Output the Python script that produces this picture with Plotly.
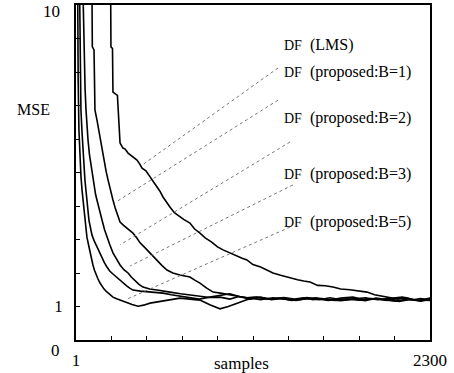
import plotly.graph_objects as go

# ---------------- data ----------------
lms_x = [1, 200, 226, 228, 238, 241, 270, 274, 280, 287, 306, 320, 339, 360, 397, 415, 430, 455, 482, 505,
         527, 545, 566, 590, 611, 640, 676, 700, 741, 770, 806, 840, 880, 920, 956, 1000, 1040, 1080, 1111,
         1150, 1200, 1241, 1280, 1330, 1391, 1440, 1480, 1521, 1570, 1620, 1670, 1720, 1780, 1840, 1891,
         1940, 1990, 2040, 2090, 2140, 2190, 2240, 2300]
lms_y = [20, 14, 10.4, 8.75, 8.7, 7.4, 7.3, 6.9, 6.3, 5.88, 5.73, 5.70, 5.58, 5.50, 5.37, 5.25, 5.13, 5.05, 4.87,
         4.70, 4.57, 4.45, 4.27, 4.10, 3.97, 3.80, 3.67, 3.60, 3.49, 3.32, 3.19, 3.05, 2.93, 2.78, 2.69, 2.60,
         2.50, 2.44, 2.39, 2.25, 2.18, 2.09, 2.00, 1.93, 1.85, 1.80, 1.76, 1.73, 1.63, 1.62, 1.58, 1.52, 1.50,
         1.45, 1.43, 1.35, 1.30, 1.25, 1.22, 1.27, 1.20, 1.24, 1.19]

b1_x = [1, 100, 105, 107, 118, 122, 124, 137, 147, 157, 170, 183, 196, 209, 225, 241, 255, 267, 287, 310, 332,
        350, 371, 395, 417, 450, 482, 508, 533, 560, 592, 630, 676, 710, 741, 775, 806, 850, 891, 940, 1001,
        1060, 1110, 1160, 1215, 1280, 1350, 1420, 1480, 1540, 1600, 1680, 1760, 1840, 1920, 2000, 2080, 2160,
        2230, 2300]
b1_y = [20, 11, 10.2, 8.75, 8.66, 7.5, 6.87, 6.57, 6.3, 5.97, 5.65, 5.37, 5.05, 4.78, 4.45, 4.18, 3.95, 3.79,
        3.52, 3.42, 3.34, 3.25, 3.19, 3.05, 2.90, 2.75, 2.60, 2.45, 2.33, 2.22, 2.09, 2.00, 1.94, 1.90, 1.88,
        1.78, 1.70, 1.55, 1.43, 1.40, 1.34, 1.30, 1.26, 1.28, 1.25, 1.22, 1.27, 1.22, 1.26, 1.20, 1.24, 1.18,
        1.23, 1.19, 1.24, 1.20, 1.16, 1.22, 1.18, 1.25]

b2_x = [1, 40, 46, 50, 53, 60, 66, 72, 79, 88, 98, 108, 118, 128, 137, 147, 157, 170, 186, 202, 220, 241, 262,
        287, 312, 339, 360, 384, 410, 436, 480, 527, 570, 611, 680, 741, 800, 870, 936, 1000, 1060, 1120, 1200,
        1280, 1350, 1430, 1500, 1580, 1650, 1730, 1800, 1880, 1950, 2030, 2100, 2170, 2240, 2300]
b2_y = [20, 11, 10.2, 9.0, 8.36, 7.5, 6.87, 6.4, 5.97, 5.55, 5.22, 4.90, 4.63, 4.35, 4.18, 3.98, 3.82, 3.58,
        3.30, 3.07, 2.85, 2.60, 2.42, 2.24, 2.10, 2.00, 1.88, 1.76, 1.66, 1.58, 1.52, 1.49, 1.45, 1.43, 1.38,
        1.34, 1.30, 1.27, 1.28, 1.22, 1.30, 1.25, 1.20, 1.26, 1.22, 1.18, 1.24, 1.20, 1.26, 1.19, 1.22, 1.17,
        1.25, 1.20, 1.15, 1.21, 1.17, 1.24]

b3_x = [1, 22, 27, 28, 33, 40, 46, 53, 59, 66, 72, 79, 85, 95, 105, 120, 137, 153, 170, 186, 202, 220, 241,
        262, 287, 310, 332, 350, 371, 420, 482, 520, 566, 620, 680, 741, 800, 870, 936, 1000, 1060, 1130, 1200,
        1270, 1340, 1420, 1500, 1570, 1640, 1720, 1800, 1870, 1950, 2020, 2100, 2180, 2240, 2300]
b3_y = [20, 11, 10.0, 8.36, 6.87, 6.2, 5.67, 5.2, 4.78, 4.45, 4.18, 3.85, 3.58, 3.35, 3.13, 2.95, 2.78, 2.60,
        2.45, 2.30, 2.18, 2.06, 1.97, 1.88, 1.79, 1.70, 1.61, 1.55, 1.49, 1.46, 1.43, 1.42, 1.40, 1.35, 1.30,
        1.25, 1.22, 1.28, 1.32, 1.38, 1.30, 1.22, 1.28, 1.20, 1.24, 1.19, 1.27, 1.22, 1.18, 1.25, 1.28, 1.20,
        1.24, 1.18, 1.25, 1.20, 1.16, 1.21]

b5_x = [1, 10, 14, 15, 20, 27, 33, 40, 47, 53, 59, 66, 72, 82, 92, 101, 111, 121, 131, 144, 157, 170, 183, 196,
        209, 225, 241, 265, 287, 310, 332, 365, 404, 440, 482, 540, 592, 630, 676, 740, 806, 870, 936, 990,
        1047, 1110, 1176, 1250, 1326, 1400, 1480, 1560, 1640, 1720, 1800, 1880, 1960, 2040, 2120, 2200, 2300]
b5_y = [20, 11, 10.0, 7.76, 6.27, 5.37, 4.9, 4.48, 4.15, 3.88, 3.58, 3.30, 3.07, 2.85, 2.60, 2.42, 2.24, 2.08,
        1.94, 1.82, 1.70, 1.60, 1.52, 1.46, 1.40, 1.33, 1.28, 1.23, 1.19, 1.16, 1.13, 1.06, 1.01, 1.04, 1.10,
        1.15, 1.19, 1.22, 1.25, 1.22, 1.19, 1.05, 0.93, 1.00, 1.10, 1.20, 1.28, 1.22, 1.25, 1.18, 1.22, 1.26,
        1.20, 1.17, 1.22, 1.26, 1.20, 1.23, 1.28, 1.20, 1.18]

series_names = ["DF (LMS)", "DF (proposed:B=1)", "DF (proposed:B=2)", "DF (proposed:B=3)", "DF (proposed:B=5)"]
label_text = ["<span style='font-size:14px'>DF</span>  (LMS)",
              "<span style='font-size:14px'>DF</span>  (proposed:B=1)",
              "<span style='font-size:14px'>DF</span>  (proposed:B=2)",
              "<span style='font-size:14px'>DF</span>  (proposed:B=3)",
              "<span style='font-size:14px'>DF</span>  (proposed:B=5)"]

x_tick_vals = [1 + k * 229.9 for k in range(11)]
x_tick_text = ["1", "", "", "", "", "", "", "", "", "", "2300"]
y_tick_vals = list(range(0, 11))
y_tick_text = ["", "1", "", "", "", "", "", "", "", "", ""]

SERIF = "Liberation Serif"

# ---------------- figure ----------------
fig = go.Figure()
all_series = [(lms_x, lms_y), (b1_x, b1_y), (b2_x, b2_y), (b3_x, b3_y), (b5_x, b5_y)]
for (xs, ys), name in zip(all_series, series_names):
    fig.add_trace(go.Scatter(x=xs, y=ys, mode="lines", name=name,
                             line=dict(color="black", width=1.6), showlegend=False))

# label positions (left edge x, center y) and leader lines
label_pos = [(1339, 8.81), (1339, 8.0), (1339, 6.63), (1339, 4.96), (1339, 3.52)]
leaders = [((1313, 8.12), (430, 5.22)),
           ((1313, 7.16), (261, 4.12)),
           ((1391, 5.91), (287, 2.84)),
           ((1410, 4.63), (352, 2.21)),
           ((1391, 3.37), (332, 1.22))]

for txt, (lx, ly) in zip(label_text, label_pos):
    fig.add_annotation(x=lx, y=ly, xref="x", yref="y", text=txt, showarrow=False,
                       xanchor="left", yanchor="middle",
                       font=dict(family=SERIF, size=16, color="black"))

for (p0, p1) in leaders:
    fig.add_shape(type="line", x0=p0[0], y0=p0[1], x1=p1[0], y1=p1[1], xref="x", yref="y",
                  line=dict(color="#777777", width=1, dash="dot"))

fig.add_annotation(x=-0.121, y=0.687, xref="paper", yref="paper", text="MSE", showarrow=False,
                   xanchor="center", yanchor="middle",
                   font=dict(family=SERIF, size=16, color="black"))
fig.add_annotation(x=1079, y=-0.069, xref="x", yref="paper", text="samples", showarrow=False,
                   xanchor="center", yanchor="middle",
                   font=dict(family=SERIF, size=17, color="black"))
fig.add_annotation(x=0, y=0, xref="paper", yref="y", text="0", showarrow=False,
                   xanchor="right", yanchor="middle", xshift=-14, yshift=-10,
                   font=dict(family=SERIF, size=17, color="black"))
fig.add_annotation(x=0, y=10, xref="paper", yref="y", text="10", showarrow=False,
                   xanchor="right", yanchor="middle", xshift=-14, yshift=-6,
                   font=dict(family=SERIF, size=17, color="black"))

fig.update_xaxes(range=[1, 2300], tickvals=x_tick_vals, ticktext=x_tick_text,
                 ticks="inside", ticklen=4, tickcolor="black", tickwidth=1,
                 showline=True, linecolor="black", linewidth=1.5, mirror=True,
                 showgrid=False, zeroline=False, ticklabelstandoff=4,
                 ticklabeloverflow="allow", automargin=False,
                 tickfont=dict(family=SERIF, size=17, color="black"))
fig.update_yaxes(range=[0, 10], tickvals=y_tick_vals, ticktext=y_tick_text,
                 ticks="inside", ticklen=4, tickcolor="black", tickwidth=1,
                 showline=True, linecolor="black", linewidth=1.5, mirror=True,
                 showgrid=False, zeroline=False, ticklabelstandoff=8,
                 ticklabeloverflow="allow", automargin=False,
                 tickfont=dict(family=SERIF, size=17, color="black"))

fig.update_layout(width=454, height=373, margin=dict(l=76, r=24, t=5, b=33, autoexpand=False),
                  paper_bgcolor="white", plot_bgcolor="white", showlegend=False)

fig.write_html("out.html", config={"displayModeBar": False},
               post_script="document.body.style.margin='0';document.body.style.padding='0';document.body.style.overflow='hidden';")
